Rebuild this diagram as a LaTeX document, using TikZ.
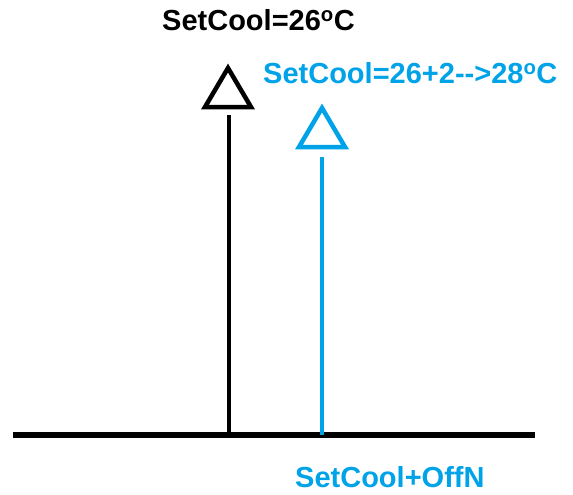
\documentclass[tikz,border=0pt]{standalone}
\usepackage{fontspec}
\setmainfont{Liberation Sans}
\newfontfamily\lblfont{Liberation Sans Bold}
\definecolor{paintblue}{RGB}{0,162,232}
\begin{document}
\begin{tikzpicture}[x=1pt,y=-1pt,
  axisline/.style={line width=6pt},
  stem/.style={line width=4pt},
  tri/.style={line width=4.5pt, line join=miter},
  lbl/.style={font={\lblfont\fontsize{29}{32}\selectfont}, inner sep=0pt, anchor=base west}]
  \useasboundingbox (0,0) rectangle (573,495);
  % base axis
  \coordinate (axL) at (13,435);
  \coordinate (axR) at (535,435);
  \draw[axisline] (axL) -- (axR);
  % black marker: set point
  \coordinate (bBase) at (229,435);
  \coordinate (bTop) at (229,115);
  \draw[stem] (bBase) -- (bTop);
  \draw[tri] (228,68) -- (251,107) -- (205,107) -- cycle;
  % blue marker: shifted set point
  \coordinate (cBase) at (322,435);
  \coordinate (cTop) at (322,157);
  \draw[stem, paintblue] (cBase) -- (cTop);
  \draw[tri, paintblue] (322,108) -- (345,147) -- (299,147) -- cycle;
  % labels
  \node[lbl] (t1) at (162,31) {SetCool=26\textsuperscript{o}C};
  \node[lbl, text=paintblue] (t2) at (263,84) {SetCool=26+2{-}{-}>28\textsuperscript{o}C};
  \node[lbl, text=paintblue] (t3) at (295,487) {SetCool+OffN};
\end{tikzpicture}
\end{document}
